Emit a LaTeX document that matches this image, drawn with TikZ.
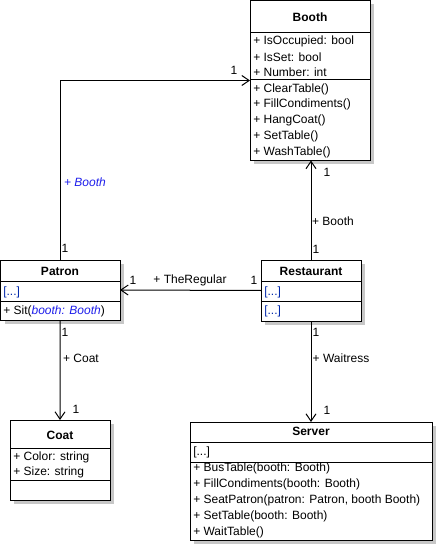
\documentclass[tikz,border=0pt]{standalone}
\usepackage{fontspec}
\setmainfont{Liberation Sans}
\usetikzlibrary{arrows.meta,shadows}
\definecolor{lblue}{RGB}{30,30,235}
\definecolor{dblue}{RGB}{0,40,170}
\begin{document}
\begin{tikzpicture}[x=0.75pt,y=-0.75pt,font=\fontsize{9}{11}\selectfont,
  cls/.style 2 args={draw,line width=0.75pt,fill=white,anchor=north west,inner sep=0pt,outer sep=0pt,
    minimum width=#1*0.75pt,minimum height=#2*0.75pt,
    drop shadow={shadow xshift=3pt,shadow yshift=-3pt,fill=black!22,opacity=1}},
  sep/.style={line width=0.75pt},
  ttl/.style={font=\fontsize{9}{11}\selectfont\bfseries,inner sep=0pt},
  mem/.style={anchor=west,inner sep=0pt},
  lbl/.style={inner sep=0pt},
  assoc/.style={line width=0.75pt,-{Straight Barb[length=5.5pt,width=7.5pt,line width=0.75pt]}}]
\useasboundingbox (0,0) rectangle (435,545);

% Booth
\node[cls={120}{160}] (booth) at (250,0.5) {};
\draw[sep] (250,33) -- (370,33);
\draw[sep] (250,80) -- (370,80);
\node[ttl] (bootht) at (310,17) {Booth};
\node[mem] (b1) at (253,41) {+ IsOccupied: bool};
\node[mem] (b2) at (253,57) {+ IsSet: bool};
\node[mem] (b3) at (253,72.5) {+ Number: int};
\node[mem] (b4) at (253,89) {+ ClearTable()};
\node[mem] (b5) at (253,104.5) {+ FillCondiments()};
\node[mem] (b6) at (253,120) {+ HangCoat()};
\node[mem] (b7) at (253,136) {+ SetTable()};
\node[mem] (b8) at (253,152) {+ WashTable()};

% Patron
\node[cls={119.5}{60}] (patron) at (0.5,260) {};
\draw[sep] (0.5,281) -- (120,281);
\draw[sep] (0.5,301) -- (120,301);
\node[ttl] (patront) at (60,271) {Patron};
\node[mem,text=dblue] (p1) at (3,292) {[...]};
\node[mem] (p2) at (3,311) {+ Sit(\textcolor{lblue}{\itshape booth: Booth})};

% Restaurant
\node[cls={100}{61}] (rest) at (261,260) {};
\draw[sep] (261,281) -- (361,281);
\draw[sep] (261,301) -- (361,301);
\node[ttl] (restt) at (311,271) {Restaurant};
\node[mem,text=dblue] (r1) at (264,292) {[...]};
\node[mem,text=dblue] (r2) at (264,311) {[...]};

% Coat
\node[cls={100}{80}] (coat) at (10,420) {};
\draw[sep] (10,448) -- (110,448);
\draw[sep] (10,480) -- (110,480);
\node[ttl] (coatt) at (60,435) {Coat};
\node[mem] (c1) at (13,457) {+ Color: string};
\node[mem] (c2) at (13,472.5) {+ Size: string};

% Server
\node[cls={242}{118}] (server) at (190,422) {};
\draw[sep] (190,442) -- (432,442);
\draw[sep] (190,462) -- (432,462);
\node[ttl] (servert) at (311,431) {Server};
\node[mem] (s0) at (193,452) {[...]};
\node[mem] (s1) at (193,468) {+ BusTable(booth: Booth)};
\node[mem] (s2) at (193,484) {+ FillCondiments(booth: Booth)};
\node[mem] (s3) at (193,500) {+ SeatPatron(patron: Patron, booth Booth)};
\node[mem] (s4) at (193,516) {+ SetTable(booth: Booth)};
\node[mem] (s5) at (193,532) {+ WaitTable()};

% connectors
\draw[assoc] (patron.north) |- (booth.west);
\draw[assoc] (rest.north) -- (rest.north |- booth.south);
\draw[assoc] (rest.west) -- (patron.east);
\draw[assoc] (patron.south) -- (coat.north);
\draw[assoc] (rest.south) -- (rest.south |- server.north);

% labels
\node[lbl] (l1) at (234,70) {1};
\node[lbl] (l2) at (65,248) {1};
\node[lbl,text=lblue] (l3) at (85,182) {\itshape + Booth};
\node[lbl] (l4) at (327,172) {1};
\node[lbl] (l5) at (333,221) {+ Booth};
\node[lbl] (l6) at (316,249) {1};
\node[lbl] (l7) at (133,280) {1};
\node[lbl] (l8) at (190,280) {+ TheRegular};
\node[lbl] (l9) at (254,280) {1};
\node[lbl] (l10) at (65,332) {1};
\node[lbl] (l11) at (81,358) {+ Coat};
\node[lbl] (l12) at (76,409) {1};
\node[lbl] (l13) at (316,332) {1};
\node[lbl] (l14) at (341,358) {+ Waitress};
\node[lbl] (l15) at (327,410) {1};
\end{tikzpicture}
\end{document}
